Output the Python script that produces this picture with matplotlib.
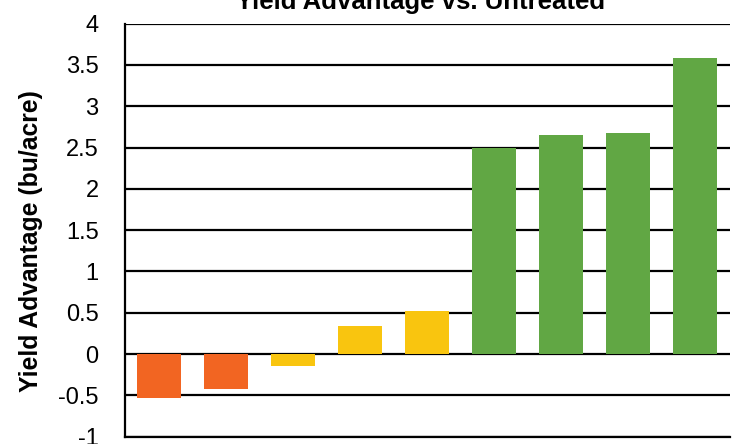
import matplotlib
matplotlib.use("Agg")
import matplotlib.pyplot as plt

# data
values = [-0.53, -0.42, -0.14, 0.34, 0.52, 2.50, 2.65, 2.675, 3.59]
colors = ["#F26522", "#F26522", "#F9C50F", "#F9C50F", "#F9C50F",
          "#61A744", "#61A744", "#61A744", "#61A744"]
yticks = [-1, -0.5, 0, 0.5, 1, 1.5, 2, 2.5, 3, 3.5, 4]
ytick_labels = ["-1", "-0.5", "0", "0.5", "1", "1.5", "2", "2.5", "3", "3.5", "4"]

plt.rcParams["font.family"] = ["Liberation Sans", "DejaVu Sans"]

fig = plt.figure(figsize=(7.34, 4.44), dpi=100)
ax = fig.add_axes([125 / 734, 1 - 436.7 / 444, 605 / 734, 413 / 444])

x = list(range(len(values)))
ax.bar(x, values, width=0.66, color=colors, zorder=3)

ax.set_ylim(-1, 4)
ax.set_xlim(-0.507, 8.52)
ax.set_yticks(yticks)
ax.set_yticklabels(ytick_labels, fontsize=17)
ax.set_xticks([])
ax.tick_params(axis="y", length=0, pad=19)
ax.grid(axis="y", color="black", linewidth=1.6, zorder=0)

for side in ["top", "right"]:
    ax.spines[side].set_visible(False)
ax.spines["left"].set_linewidth(1.6)
ax.spines["bottom"].set_linewidth(1.6)

ax.set_ylabel("Yield Advantage (bu/acre)", fontsize=17.8, fontweight="bold")
ax.yaxis.set_label_coords(-0.1355, 0.474)

fig.text(420.5 / 734, 1 - 8.5 / 444, "Yield Advantage vs. Untreated",
         ha="center", va="baseline", fontsize=18.5, fontweight="bold")

fig.savefig("out.png", dpi=100)
